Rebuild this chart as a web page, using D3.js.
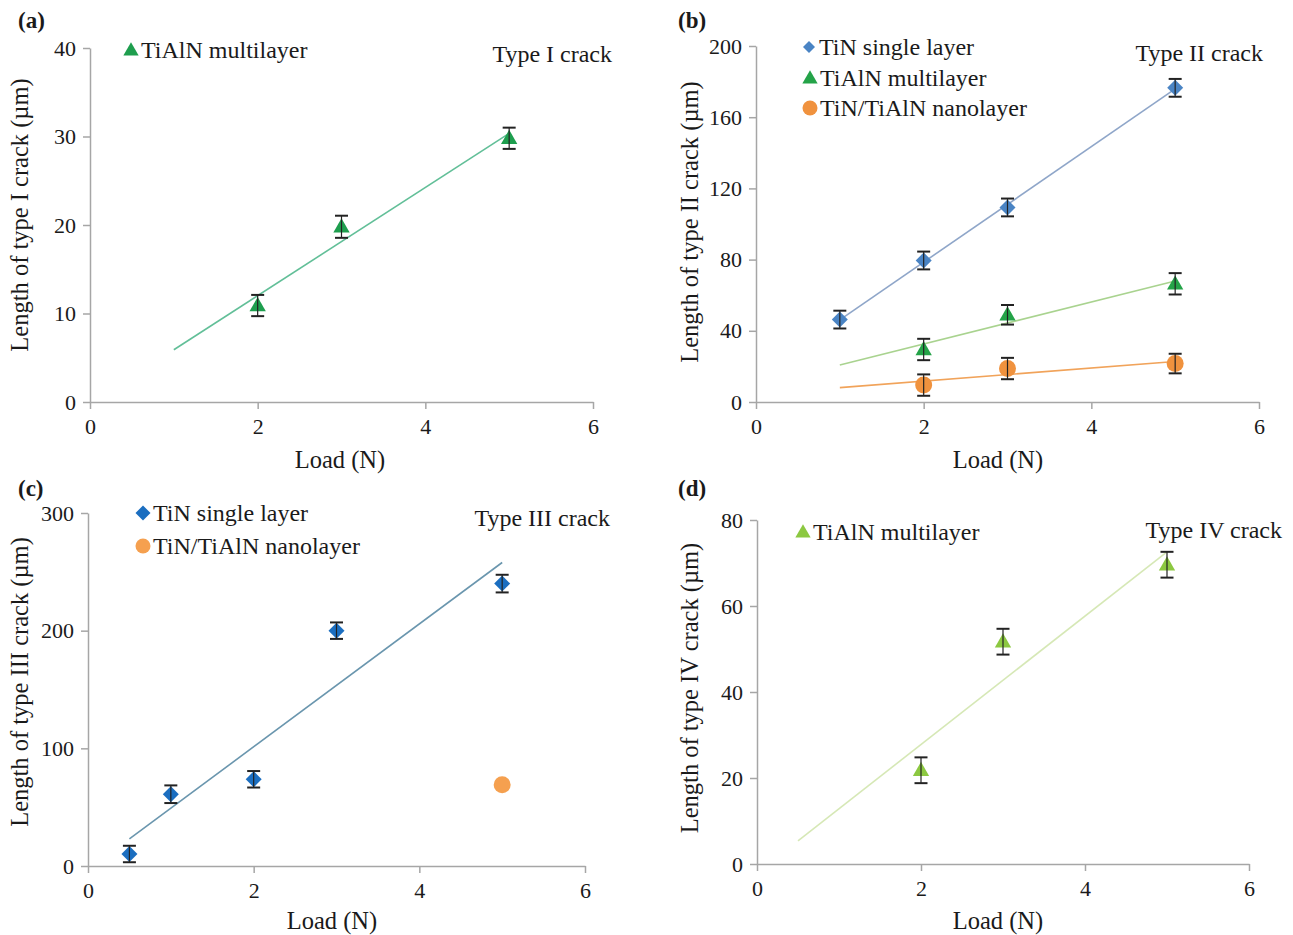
<!DOCTYPE html>
<html>
<head>
<meta charset="utf-8">
<script src="https://cdn.jsdelivr.net/npm/d3@7"></script>
<style>
  body { margin: 0; background: #fff; }
  text { font-family: "Liberation Serif", "Times New Roman", serif; fill: #1a1a1a; }
</style>
</head>
<body>
<div class="chart"></div>
<script>
// panel (a) - type I crack
const loadA = [2, 3, 5];
const tialnA = [10.9, 19.8, 29.8];
const tialnAErr = [1.2, 1.25, 1.2];

// panel (b) - type II crack
const loadB1 = [1, 2, 3, 5];
const tinB = [46.3, 79.5, 109.3, 176.5];
const tinBErr = [5, 5, 5, 5];
const loadB = [2, 3, 5];
const tialnB = [29.5, 49, 66.4];
const tialnBErr = [6, 5.5, 6];
const nanoB = [9.5, 18.8, 21.6];
const nanoBErr = [6, 6, 5.5];

// panel (c) - type III crack
const loadC = [0.5, 1, 2, 3, 5];
const tinC = [10.2, 61, 73.7, 200, 240];
const tinCErr = [7, 7.5, 7, 7, 7.5];
const loadC2 = [5];
const nanoC = [69];

// panel (d) - type IV crack
const loadD = [2, 3, 5];
const tialnD = [21.8, 51.7, 69.6];
const tialnDErr = [3, 3, 3];

const xTicks = [0, 2, 4, 6];

const zip = (xs, ys, es) => xs.map((x, i) => ({x, y: ys[i], e: es ? es[i] : null}));

// least squares fit for the trend lines
const fit = (pts) => {
    const mx = d3.mean(pts, d => d.x), my = d3.mean(pts, d => d.y);
    const sxy = d3.sum(pts, d => (d.x - mx) * (d.y - my));
    const sxx = d3.sum(pts, d => (d.x - mx) ** 2);
    const b = sxy / sxx;
    return (x) => my + b * (x - mx);
};

const panels = [
    {label: '(a)', lx: 18, ly: 28, x0: 90, x1: 593, y0: 402, y1: 48, yMax: 40, yTicks: [0, 10, 20, 30, 40],
     yTitle: 'Length of type I crack (\u00b5m)', ytx: 20, yty: 215, xtx: 340, xty: 468,
     note: 'Type I crack', nx: 612, ny: 62,
     series: [
        {name: 'TiAlN multilayer', shape: 'tri', fill: '#1e9e4e', line: '#62bf98', pts: zip(loadA, tialnA, tialnAErr), from: 1, to: 5, lgx: 131, lgy: 50}
     ]},
    {label: '(b)', lx: 678, ly: 28, x0: 756, x1: 1259, y0: 402, y1: 46, yMax: 200, yTicks: [0, 40, 80, 120, 160, 200],
     yTitle: 'Length of type II crack (\u00b5m)', ytx: 690, yty: 222, xtx: 998, xty: 468,
     note: 'Type II crack', nx: 1263, ny: 61,
     series: [
        {name: 'TiN single layer', shape: 'dia', fill: '#4a84c4', line: '#8fa6c9', pts: zip(loadB1, tinB, tinBErr), from: 1, to: 5, lgx: 809, lgy: 47, lsize: 12},
        {name: 'TiAlN multilayer', shape: 'tri', fill: '#24a348', line: '#a9d38f', pts: zip(loadB, tialnB, tialnBErr), from: 1, to: 5, lgx: 810, lgy: 78},
        {name: 'TiN/TiAlN nanolayer', shape: 'cir', fill: '#f0923e', line: '#f1a35a', pts: zip(loadB, nanoB, nanoBErr), from: 1, to: 5, lgx: 810, lgy: 108}
     ]},
    {label: '(c)', lx: 18, ly: 496, x0: 88, x1: 585, y0: 866, y1: 513, yMax: 300, yTicks: [0, 100, 200, 300],
     yTitle: 'Length of type III crack (\u00b5m)', ytx: 20, yty: 682, xtx: 332, xty: 929,
     note: 'Type III crack', nx: 610, ny: 526,
     series: [
        {name: 'TiN single layer', shape: 'dia', fill: '#1b6ec0', line: '#6a96ae', pts: zip(loadC, tinC, tinCErr), from: 0.5, to: 5, lgx: 143, lgy: 513},
        {name: 'TiN/TiAlN nanolayer', shape: 'cir', fill: '#f5a04f', line: null, pts: zip(loadC2, nanoC, null), lgx: 143, lgy: 546}
     ]},
    {label: '(d)', lx: 678, ly: 496, x0: 757, x1: 1249, y0: 864, y1: 520, yMax: 80, yTicks: [0, 20, 40, 60, 80],
     yTitle: 'Length of type IV crack (\u00b5m)', ytx: 690, yty: 688, xtx: 998, xty: 929,
     note: 'Type IV crack', nx: 1282, ny: 538,
     series: [
        {name: 'TiAlN multilayer', shape: 'tri', fill: '#8cc841', line: '#d6e8b6', pts: zip(loadD, tialnD, tialnDErr), from: 0.5, to: 5, lgx: 803, lgy: 532}
     ]}
];

const svg = d3.select('.chart').append('svg')
    .attr('width', 1293)
    .attr('height', 935);

const marker = (g, shape, cx, cy, fill, size) => {
    if (shape === 'tri') {
        const s = size || 16;
        g.append('path')
            .attr('d', d3.symbol(d3.symbolTriangle, s * s * 0.45)())
            .attr('transform', `translate(${cx},${cy + 1})`)
            .attr('fill', fill);
    } else if (shape === 'dia') {
        const s = size || 16;
        g.append('path')
            .attr('d', `M0,${-s / 2}L${s / 2},0L0,${s / 2}L${-s / 2},0Z`)
            .attr('transform', `translate(${cx},${cy})`)
            .attr('fill', fill);
    } else {
        g.append('circle')
            .attr('cx', cx).attr('cy', cy)
            .attr('r', (size || 17) / 2)
            .attr('fill', fill);
    }
};

panels.forEach(p => {
    const x = d3.scaleLinear().domain([0, 6]).range([p.x0, p.x1]);
    const y = d3.scaleLinear().domain([0, p.yMax]).range([p.y0, p.y1]);
    const g = svg.append('g');

    // axes
    const xa = g.append('g')
        .attr('transform', `translate(0,${p.y0})`)
        .call(d3.axisBottom(x).tickValues(xTicks).tickFormat(d3.format('d')).tickSize(7).tickSizeOuter(0).tickPadding(9));
    const ya = g.append('g')
        .attr('transform', `translate(${p.x0},0)`)
        .call(d3.axisLeft(y).tickValues(p.yTicks).tickFormat(d3.format('d')).tickSize(7).tickSizeOuter(0).tickPadding(7));
    [xa, ya].forEach(a => {
        a.select('.domain').attr('stroke', '#a6a6a6').attr('stroke-width', 1.5);
        a.selectAll('.tick line').attr('stroke', '#a6a6a6').attr('stroke-width', 1.5);
        a.selectAll('.tick text').attr('font-size', 22).attr('font-family', '"Liberation Serif", serif').attr('fill', '#1a1a1a');
    });

    // titles
    g.append('text').attr('x', p.lx).attr('y', p.ly)
        .attr('font-size', 23).attr('font-weight', 'bold').text(p.label);
    g.append('text').attr('x', p.xtx).attr('y', p.xty)
        .attr('text-anchor', 'middle').attr('font-size', 24.5).text('Load (N)');
    g.append('text')
        .attr('transform', `translate(${p.ytx + 8},${p.yty}) rotate(-90)`)
        .attr('text-anchor', 'middle').attr('font-size', 24.5).text(p.yTitle);
    g.append('text').attr('x', p.nx).attr('y', p.ny)
        .attr('text-anchor', 'end').attr('font-size', 24).text(p.note);

    p.series.forEach(s => {
        // trend line
        if (s.line) {
            const f = fit(s.pts);
            g.append('path')
                .datum([s.from, s.to])
                .attr('fill', 'none')
                .attr('stroke', s.line)
                .attr('stroke-width', 1.6)
                .attr('d', d3.line().x(d => x(d)).y(d => y(f(d))));
        }
        // markers
        s.pts.forEach(d => marker(g, s.shape, x(d.x), y(d.y), s.fill));
        // error bars
        s.pts.filter(d => d.e != null).forEach(d => {
            const cx = x(d.x), top = y(d.y + d.e), bot = y(d.y - d.e);
            const eb = g.append('g').attr('stroke', '#222').attr('stroke-width', 2);
            eb.append('line').attr('x1', cx).attr('x2', cx).attr('y1', top).attr('y2', bot).attr('stroke-width', 1.2);
            eb.append('line').attr('x1', cx - 6.5).attr('x2', cx + 6.5).attr('y1', top).attr('y2', top);
            eb.append('line').attr('x1', cx - 6.5).attr('x2', cx + 6.5).attr('y1', bot).attr('y2', bot);
        });
        // legend
        marker(g, s.shape, s.lgx, s.lgy, s.fill, s.lsize || 15);
        g.append('text').attr('x', s.lgx + 10).attr('y', s.lgy + 8)
            .attr('font-size', 24).text(s.name);
    });
});
</script>
</body>
</html>
